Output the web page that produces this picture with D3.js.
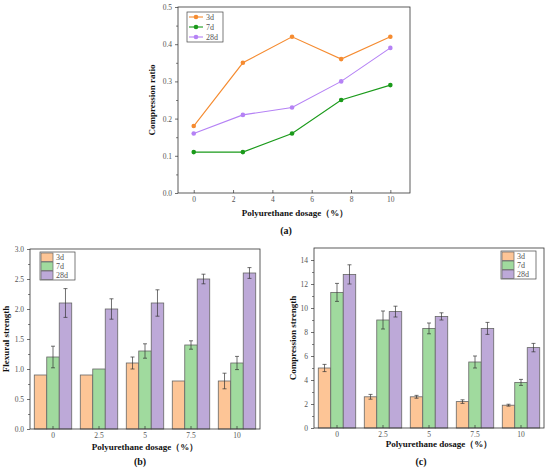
<!DOCTYPE html>
<html><head><meta charset="utf-8">
<script src="https://cdn.jsdelivr.net/npm/d3@7"></script>
<style>
body{margin:0;background:#fff;}
svg{display:block;}
text{font-family:"Liberation Serif","DejaVu Serif",serif !important;}
</style></head>
<body><svg id="c" width="550" height="472"></svg>
<script>
// ---- data ----
const ages = ["3d","7d","28d"];
// (a) compression ratio
const dosageA = [0,2.5,5,7.5,10];
const ratio3d = [0.18,0.35,0.42,0.36,0.42];
const ratio7d = [0.11,0.11,0.16,0.25,0.29];
const ratio28d = [0.16,0.21,0.23,0.30,0.39];
const ticksAx = [0,2,4,6,8,10];
const ticksAy = [0,0.1,0.2,0.3,0.4,0.5];
// (b) flexural strength
const dosageCats = ["0","2.5","5","7.5","10"];
const flex3d = [0.9,0.9,1.1,0.8,0.8];
const flex7d = [1.2,1.0,1.3,1.4,1.1];
const flex28d = [2.1,2.0,2.1,2.5,2.6];
const flexErr3d = [0,0,0.1,0,0.13];
const flexErr7d = [0.18,0,0.12,0.07,0.11];
const flexErr28d = [0.24,0.17,0.22,0.08,0.09];
const ticksBy = [0,0.5,1.0,1.5,2.0,2.5,3.0];
// (c) compression strength
const comp3d = [5.0,2.6,2.6,2.2,1.9];
const comp7d = [11.3,9.0,8.3,5.5,3.8];
const comp28d = [12.8,9.7,9.3,8.3,6.7];
const compErr3d = [0.3,0.2,0.12,0.15,0.08];
const compErr7d = [0.75,0.75,0.45,0.5,0.25];
const compErr28d = [0.8,0.45,0.3,0.5,0.35];
const ticksCy = [0,2,4,6,8,10,12,14];

const lineColors = ["#F58B30","#1A9A1A","#B582F5"];
const barColors = ["#FDC596","#A0DA9E","#BDA9D8"];

const svg = d3.select("#c");
const fmt1 = d3.format(".1f");

function frame(g,x0,x1,y0,y1){
  g.append("rect").attr("x",x0).attr("y",y1).attr("width",x1-x0).attr("height",y0-y1)
   .attr("fill","none").attr("stroke","#333").attr("stroke-width",0.8);
}
function yAxis(g,y,x0,ticks,minor,fmt){
  const ax = d3.axisLeft(y).tickValues(ticks).tickSize(3).tickPadding(3).tickFormat(fmt);
  const a = g.append("g").attr("transform",`translate(${x0},0)`).call(ax);
  a.select(".domain").remove();
  a.selectAll("line").attr("stroke","#333").attr("stroke-width",0.7);
  a.selectAll("text").attr("font-size",7.5).attr("fill","#555");
  const ma = d3.axisLeft(y).tickValues(minor).tickSize(2).tickFormat("");
  const m = g.append("g").attr("transform",`translate(${x0},0)`).call(ma);
  m.select(".domain").remove();
  m.selectAll("line").attr("stroke","#333").attr("stroke-width",0.6);
}
function xAxis(g,x,y0,ticks,fmt){
  const ax = d3.axisBottom(x).tickSize(-3).tickPadding(4).tickFormat(fmt);
  if(ticks) ax.tickValues(ticks);
  const a = g.append("g").attr("transform",`translate(0,${y0})`).call(ax);
  a.select(".domain").remove();
  a.selectAll("line").attr("stroke","#333").attr("stroke-width",0.7);
  a.selectAll("text").attr("font-size",7.5).attr("fill","#555");
}
function titles(g,xt,xx,xy,yt,yx,yy,lab,lx,ly){
  g.append("text").attr("x",xx).attr("y",xy).attr("text-anchor","middle")
   .attr("font-size",9).attr("font-weight","bold").attr("fill","#111").text(xt);
  g.append("text").attr("transform",`translate(${yx},${yy}) rotate(-90)`).attr("text-anchor","middle")
   .attr("font-size",9).attr("font-weight","bold").attr("fill","#111").text(yt);
  g.append("text").attr("x",lx).attr("y",ly).attr("text-anchor","middle")
   .attr("font-size",10).attr("font-weight","bold").attr("fill","#111").text(lab);
}

// ---------- panel (a) ----------
{
  const g = svg.append("g");
  const x = d3.scaleLinear().domain([-0.8,11]).range([178,410]);
  const y = d3.scaleLinear().domain([0,0.5]).range([193,7]);
  frame(g,178,410,193,7);
  yAxis(g,y,178,ticksAy,[0.05,0.15,0.25,0.35,0.45],fmt1);
  xAxis(g,x,193,ticksAx,d3.format("d"));
  const series = [ratio3d,ratio7d,ratio28d];
  const line = d3.line().x((d,i)=>x(dosageA[i])).y(d=>y(d));
  series.forEach((s,k)=>{
    g.append("path").attr("d",line(s)).attr("fill","none").attr("stroke",lineColors[k]).attr("stroke-width",1.1);
    g.selectAll(null).data(s).enter().append("circle")
     .attr("cx",(d,i)=>x(dosageA[i])).attr("cy",d=>y(d)).attr("r",2.3).attr("fill",lineColors[k]);
  });
  // legend
  g.append("rect").attr("x",187).attr("y",12).attr("width",36).attr("height",30)
   .attr("fill","#fff").attr("stroke","#444").attr("stroke-width",0.7);
  ages.forEach((a,k)=>{
    const ly = 17 + k*10;
    g.append("line").attr("x1",189).attr("x2",203).attr("y1",ly).attr("y2",ly).attr("stroke",lineColors[k]).attr("stroke-width",1.1);
    g.append("circle").attr("cx",196).attr("cy",ly).attr("r",2.3).attr("fill",lineColors[k]);
    g.append("text").attr("x",206).attr("y",ly+3).attr("font-size",8).attr("fill","#555").text(a);
  });
  titles(g,"Polyurethane dosage（%）",295,216,"Compression ratio",155,100,"(a)",286,234);
}

function barPanel(x0,x1,y0,y1,domainMax,ticks,minor,fmt,vals,errs,yTitle,lab,legX,legY,xtX,xtY,ytX,labX){
  const g = svg.append("g");
  const x = d3.scaleBand().domain(dosageCats).range([x0,x1]).padding(0);
  const sub = d3.scaleBand().domain(ages).range([x.bandwidth()*0.093, x.bandwidth()*0.907]).padding(0);
  const y = d3.scaleLinear().domain([0,domainMax]).range([y0,y1]);
  dosageCats.forEach((c,i)=>{
    ages.forEach((a,k)=>{
      const v = vals[k][i], e = errs[k][i];
      const bx = x(c)+sub(a);
      g.append("rect").attr("x",bx).attr("y",y(v)).attr("width",sub.bandwidth()).attr("height",y(0)-y(v))
       .attr("fill",barColors[k]).attr("stroke","#666").attr("stroke-width",0.8);
      if(e>0){
        const cx = bx+sub.bandwidth()/2;
        g.append("line").attr("x1",cx).attr("x2",cx).attr("y1",y(v+e)).attr("y2",y(v-e)).attr("stroke","#333").attr("stroke-width",0.7);
        [v+e,v-e].forEach(t=>g.append("line").attr("x1",cx-2).attr("x2",cx+2).attr("y1",y(t)).attr("y2",y(t)).attr("stroke","#333").attr("stroke-width",0.7));
      }
    });
  });
  frame(g,x0,x1,y0,y1);
  yAxis(g,y,x0,ticks,minor,fmt);
  xAxis(g,x,y0,null,d=>d);
  // legend
  g.append("rect").attr("x",legX).attr("y",legY).attr("width",35).attr("height",28)
   .attr("fill","#fff").attr("stroke","#444").attr("stroke-width",0.7);
  ages.forEach((a,k)=>{
    const ly = legY+1+k*9;
    g.append("rect").attr("x",legX+1).attr("y",ly).attr("width",12).attr("height",8.5)
     .attr("fill",barColors[k]).attr("stroke","#666").attr("stroke-width",0.7);
    g.append("text").attr("x",legX+16).attr("y",ly+7).attr("font-size",8).attr("fill","#555").text(a);
  });
  titles(g,"Polyurethane dosage（%）",xtX,xtY,yTitle,ytX,(y0+y1)/2,lab,labX,465);
}

barPanel(30,260,429,249,3,ticksBy,[0.25,0.75,1.25,1.75,2.25,2.75],fmt1,
  [flex3d,flex7d,flex28d],[flexErr3d,flexErr7d,flexErr28d],"Flexural strength","(b)",40,252,145,450,9,140);
barPanel(314,544,428,248,15,ticksCy,[1,3,5,7,9,11,13],d3.format("d"),
  [comp3d,comp7d,comp28d],[compErr3d,compErr7d,compErr28d],"Compression strength","(c)",501,251,439,447,296,421);
</script></body></html>
